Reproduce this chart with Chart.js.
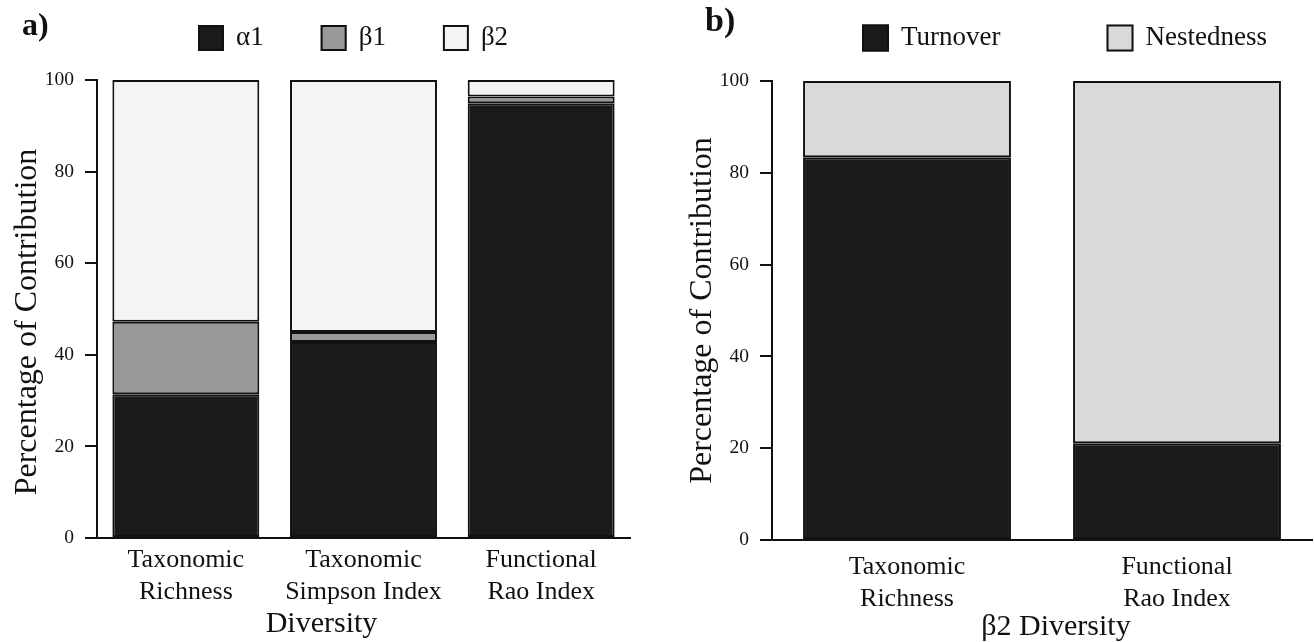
<!DOCTYPE html>
<html>
<head>
<meta charset="utf-8">
<script src="https://cdn.jsdelivr.net/npm/chart.js@4.4.1/dist/chart.umd.min.js"></script>
<style>
  html, body { margin: 0; padding: 0; background: #fff; }
  #wrap { position: relative; width: 1314px; height: 642px; }
  .panel { position: absolute; top: 0; }
  #left { left: 0; }
  #right { left: 660px; }
</style>
</head>
<body>
<div id="wrap">
  <div class="panel" id="left"><canvas id="chartA" width="660" height="642"></canvas></div>
  <div class="panel" id="right"><canvas id="chartB" width="654" height="642"></canvas></div>
</div>
<script>
// panel a) alpha / beta partition of diversity
const diversityLabels = [["Taxonomic", "Richness"], ["Taxonomic", "Simpson Index"], ["Functional", "Rao Index"]];
const alpha1 = [31.4, 42.8, 94.9];
const beta1 = [15.8, 2.2, 1.5];
const beta2 = [52.8, 55.0, 3.6];

// panel b) beta2 split into turnover and nestedness
const beta2Labels = [["Taxonomic", "Richness"], ["Functional", "Rao Index"]];
const turnover = [83.4, 21.1];
const nestedness = [16.6, 78.9];

const yTicks = [0, 20, 40, 60, 80, 100];

const serif = '"Liberation Serif", "Times New Roman", serif';
Chart.defaults.font.family = serif;
Chart.defaults.color = "#111";

// panel letter, legend and axis titles (titles sit a bit off the plot centre in the original)
const panelDecor = {
  id: "panelDecor",
  afterDraw(chart, args, opts) {
    const ctx = chart.ctx;
    const area = chart.chartArea;
    ctx.save();
    ctx.fillStyle = "#111";
    ctx.textBaseline = "middle";
    ctx.textAlign = "left";
    ctx.font = "bold " + opts.tagFont + "px " + serif;
    ctx.fillText(opts.tag, opts.tagX, opts.tagY);

    ctx.font = opts.legendFont + "px " + serif;
    let x = opts.legendX;
    const s = opts.box;
    chart.data.datasets.forEach((ds) => {
      ctx.fillStyle = ds.backgroundColor;
      ctx.fillRect(x, opts.legendY - s / 2, s, s);
      ctx.lineWidth = 2;
      ctx.strokeStyle = "#111";
      ctx.strokeRect(x + 1, opts.legendY - s / 2 + 1, s - 2, s - 2);
      ctx.fillStyle = "#111";
      ctx.fillText(ds.label, x + s + 12, opts.legendY);
      x += s + 12 + ctx.measureText(ds.label).width + opts.gap;
    });

    ctx.textAlign = "center";
    ctx.font = "30px " + serif;
    ctx.fillText(opts.xTitle, (area.left + area.right) / 2 + opts.xTitleDx, opts.xTitleY);

    ctx.font = "32px " + serif;
    ctx.translate(opts.yTitleX, (area.top + area.bottom) / 2 + opts.yTitleDy);
    ctx.rotate(-Math.PI / 2);
    ctx.fillText("Percentage of Contribution", 0, 0);
    ctx.restore();
  },
};

function barSet(label, data, color, pct) {
  return {
    label,
    data,
    backgroundColor: color,
    borderColor: "#111",
    borderWidth: 2,
    borderSkipped: false,
    barPercentage: pct,
    categoryPercentage: 1,
  };
}

function makeOptions(o) {
  return {
    responsive: false,
    animation: false,
    layout: { padding: { top: o.top, right: o.right, left: 0, bottom: 0 } },
    plugins: {
      legend: { display: false },
      tooltip: { enabled: false },
      panelDecor: o.decor,
    },
    scales: {
      x: {
        stacked: true,
        grid: { display: true, drawOnChartArea: false, drawTicks: false },
        border: { color: "#111", width: 2 },
        ticks: { color: "#111", font: { size: 26, lineHeight: 1.23 }, padding: o.xPad, maxRotation: 0, autoSkip: false },
        afterFit: (s) => { s.height = o.xHeight; },
      },
      y: {
        stacked: true,
        min: 0,
        max: 100,
        grid: { drawOnChartArea: false, color: "#111", lineWidth: 2, tickLength: 12 },
        border: { color: "#111", width: 2 },
        ticks: { color: "#111", font: { size: 19.5 }, padding: 11 },
        afterBuildTicks: (s) => { s.ticks = yTicks.map((v) => ({ value: v })); },
        afterFit: (s) => { s.width = o.yWidth; },
      },
    },
  };
}

new Chart(document.getElementById("chartA"), {
  type: "bar",
  data: {
    labels: diversityLabels,
    datasets: [
      barSet("\u03b11", alpha1, "#1a1a1a", 0.827),
      barSet("\u03b21", beta1, "#999999", 0.827),
      barSet("\u03b22", beta2, "#f3f4f6", 0.827),
    ],
  },
  options: makeOptions({
    top: 80, right: 30, xHeight: 104, yWidth: 97, xPad: 6,
    decor: { tag: "a)", tagFont: 32, tagX: 22, tagY: 27, legendX: 198, legendY: 38, box: 26, legendFont: 27, gap: 57,
             xTitle: "Diversity", xTitleDx: -42, xTitleY: 624, yTitleX: 28, yTitleDy: 13 },
  }),
  plugins: [panelDecor],
});

new Chart(document.getElementById("chartB"), {
  type: "bar",
  data: {
    labels: beta2Labels,
    datasets: [
      barSet("Turnover", turnover, "#1a1a1a", 0.77),
      barSet("Nestedness", nestedness, "#d9d9d9", 0.77),
    ],
  },
  options: makeOptions({
    top: 81, right: 2, xHeight: 102, yWidth: 112, xPad: 11,
    decor: { tag: "b)", tagFont: 34, tagX: 45, tagY: 22, legendX: 202, legendY: 38, box: 27, legendFont: 27, gap: 106,
             xTitle: "\u03b22 Diversity", xTitleDx: 14, xTitleY: 627, yTitleX: 43, yTitleDy: 0 },
  }),
  plugins: [panelDecor],
});
</script>
</body>
</html>
